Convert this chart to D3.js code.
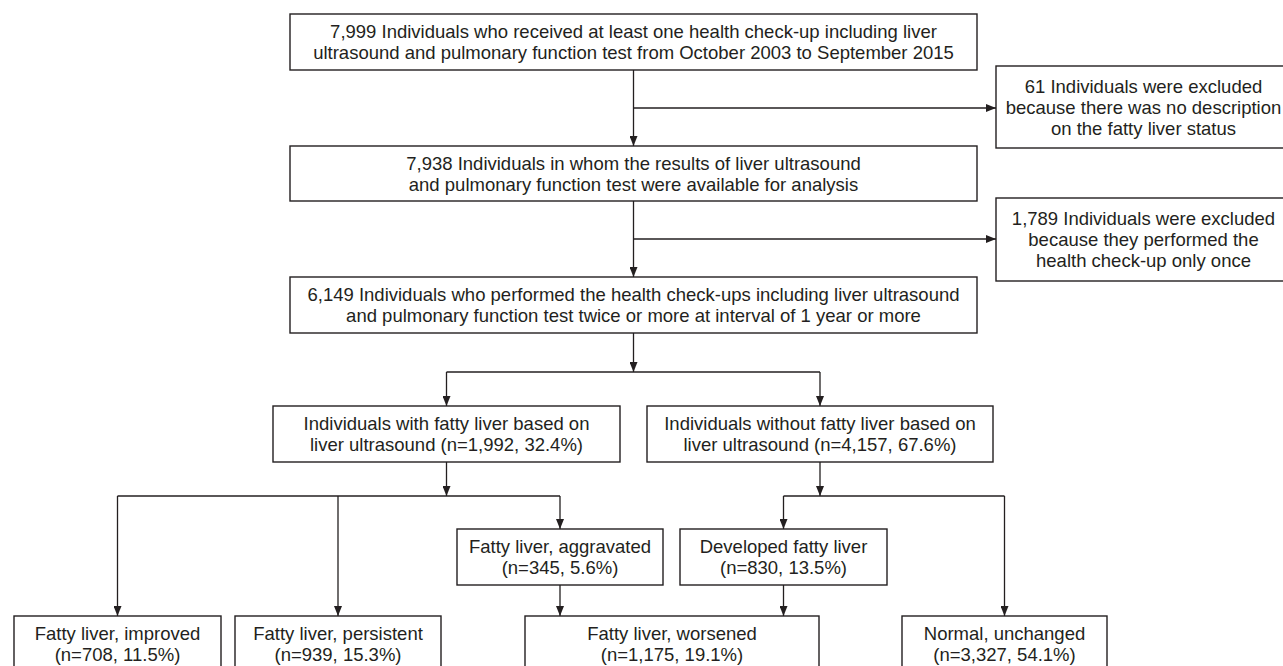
<!DOCTYPE html>
<html lang="en">
<head>
  <meta charset="UTF-8" />
  <title>Study flowchart</title>
  <script src="https://d3js.org/d3.v7.min.js"></script>
  <style>
    body {
      margin: 0;
      background: #fff;
    }
    svg text {
      font-family: 'Liberation Sans', Arial, sans-serif;
      font-size: 18.5px;
      fill: #231f20;
    }
    .box {
      fill: #fff;
      stroke: #231f20;
      stroke-width: 1.4;
    }
    .link {
      fill: none;
      stroke: #231f20;
      stroke-width: 1.3;
    }
  </style>
</head>
<body>
  <div id="chart"></div>

  <script>
    // text of the flow
    const mainSteps = [
      ["7,999 Individuals who received at least one health check-up including liver",
       "ultrasound and pulmonary function test from October 2003 to September 2015"],
      ["7,938 Individuals in whom the results of liver ultrasound",
       "and pulmonary function test were available for analysis"],
      ["6,149 Individuals who performed the health check-ups including liver ultrasound",
       "and pulmonary function test twice or more at interval of 1 year or more"]
    ];
    const exclusions = [
      ["61 Individuals were excluded", "because there was no description", "on the fatty liver status"],
      ["1,789 Individuals were excluded", "because they performed the", "health check-up only once"]
    ];
    const groupNames = ["Individuals with fatty liver based on", "Individuals without fatty liver based on"];
    const groupN = [1992, 4157];
    const groupPct = [32.4, 67.6];
    const outcomeNames = ["Fatty liver, improved", "Fatty liver, persistent", "Fatty liver, aggravated",
                          "Developed fatty liver", "Fatty liver, worsened", "Normal, unchanged"];
    const outcomeN = [708, 939, 345, 830, 1175, 3327];
    const outcomePct = [11.5, 15.3, 5.6, 13.5, 19.1, 54.1];

    const width = 1283, height = 666;
    const lineGap = 21;
    const fmtN = d3.format(",");
    const stat = (n, p) => `(n=${fmtN(n)}, ${p.toFixed(1)}%)`;

    // box geometry [x0, x1, y0, y1] (exclusion boxes run past the right edge)
    const layout = {
      main0: [290, 977, 14, 70],
      main1: [290, 977, 146, 201],
      main2: [290, 977, 277, 333],
      excl0: [996, 1291, 66, 148],
      excl1: [996, 1291, 198, 281],
      grp0: [273, 620, 406, 462],
      grp1: [647, 993, 406, 462],
      out0: [14, 221, 616, 672],
      out1: [235, 441, 616, 672],
      out2: [457, 663, 529, 585],
      out3: [680, 887, 529, 585],
      out4: [525, 819, 616, 672],
      out5: [902, 1107, 616, 672]
    };

    const nodes = [];
    mainSteps.forEach((lines, i) => nodes.push({ id: "main" + i, lines }));
    exclusions.forEach((lines, i) => nodes.push({ id: "excl" + i, lines }));
    groupNames.forEach((name, i) => nodes.push({
      id: "grp" + i, lines: [name, "liver ultrasound " + stat(groupN[i], groupPct[i])]
    }));
    outcomeNames.forEach((name, i) => nodes.push({
      id: "out" + i, lines: [name, stat(outcomeN[i], outcomePct[i])]
    }));

    const cx = id => (layout[id][0] + layout[id][1]) / 2;
    const boxTop = id => layout[id][2];
    const boxBot = id => layout[id][3];
    const boxLeft = id => layout[id][0];

    // connectors: [points, arrow at end?]
    const trunkX = cx("main0");
    const splitY = [108, 239];
    const links = [
      [[[trunkX, boxBot("main0")], [trunkX, boxTop("main1")]], true],
      [[[trunkX, splitY[0]], [boxLeft("excl0"), splitY[0]]], true],
      [[[trunkX, boxBot("main1")], [trunkX, boxTop("main2")]], true],
      [[[trunkX, splitY[1]], [boxLeft("excl1"), splitY[1]]], true],
      [[[trunkX, boxBot("main2")], [trunkX, 372]], true],
      [[[cx("grp0"), 372], [cx("grp1"), 372]], false],
      [[[cx("grp0"), 372], [cx("grp0"), boxTop("grp0")]], true],
      [[[cx("grp1"), 372], [cx("grp1"), boxTop("grp1")]], true],
      [[[cx("grp0"), boxBot("grp0")], [cx("grp0"), 496]], true],
      [[[cx("out0"), 496], [cx("out2"), 496]], false],
      [[[cx("out0"), 496], [cx("out0"), boxTop("out0")]], true],
      [[[cx("out1"), 496], [cx("out1"), boxTop("out1")]], true],
      [[[cx("out2"), 496], [cx("out2"), boxTop("out2")]], true],
      [[[cx("grp1"), boxBot("grp1")], [cx("grp1"), 496]], true],
      [[[cx("out3"), 496], [cx("out5"), 496]], false],
      [[[cx("out3"), 496], [cx("out3"), boxTop("out3")]], true],
      [[[cx("out5"), 496], [cx("out5"), boxTop("out5")]], true],
      [[[cx("out2"), boxBot("out2")], [cx("out2"), boxTop("out4")]], true],
      [[[cx("out3"), boxBot("out3")], [cx("out3"), boxTop("out4")]], true]
    ];

    const svg = d3.select("#chart").append("svg")
      .attr("width", width)
      .attr("height", height);

    svg.append("defs").append("marker")
      .attr("id", "arrow")
      .attr("markerUnits", "userSpaceOnUse")
      .attr("viewBox", "0 0 10 8")
      .attr("refX", 10)
      .attr("refY", 4)
      .attr("markerWidth", 10)
      .attr("markerHeight", 8)
      .attr("orient", "auto")
      .append("path")
      .attr("d", "M0,0L10,4L0,8Z")
      .attr("fill", "#231f20");

    const line = d3.line();
    svg.selectAll("path.link")
      .data(links)
      .join("path")
      .attr("class", "link")
      .attr("d", d => line(d[0]))
      .attr("marker-end", d => d[1] ? "url(#arrow)" : null);

    const g = svg.selectAll("g.node")
      .data(nodes)
      .join("g")
      .attr("class", "node");

    g.append("rect")
      .attr("class", "box")
      .attr("x", d => layout[d.id][0])
      .attr("y", d => layout[d.id][2])
      .attr("width", d => layout[d.id][1] - layout[d.id][0])
      .attr("height", d => layout[d.id][3] - layout[d.id][2]);

    g.each(function(d) {
      const [x0, x1, y0, y1] = layout[d.id];
      const mid = (y0 + y1) / 2;
      const first = mid - (d.lines.length - 1) * lineGap / 2;
      d3.select(this).selectAll("text")
        .data(d.lines)
        .join("text")
        .attr("x", (x0 + x1) / 2)
        .attr("y", (t, i) => first + i * lineGap + 6.5)
        .attr("text-anchor", "middle")
        .text(t => t);
    });
  </script>
</body>
</html>
